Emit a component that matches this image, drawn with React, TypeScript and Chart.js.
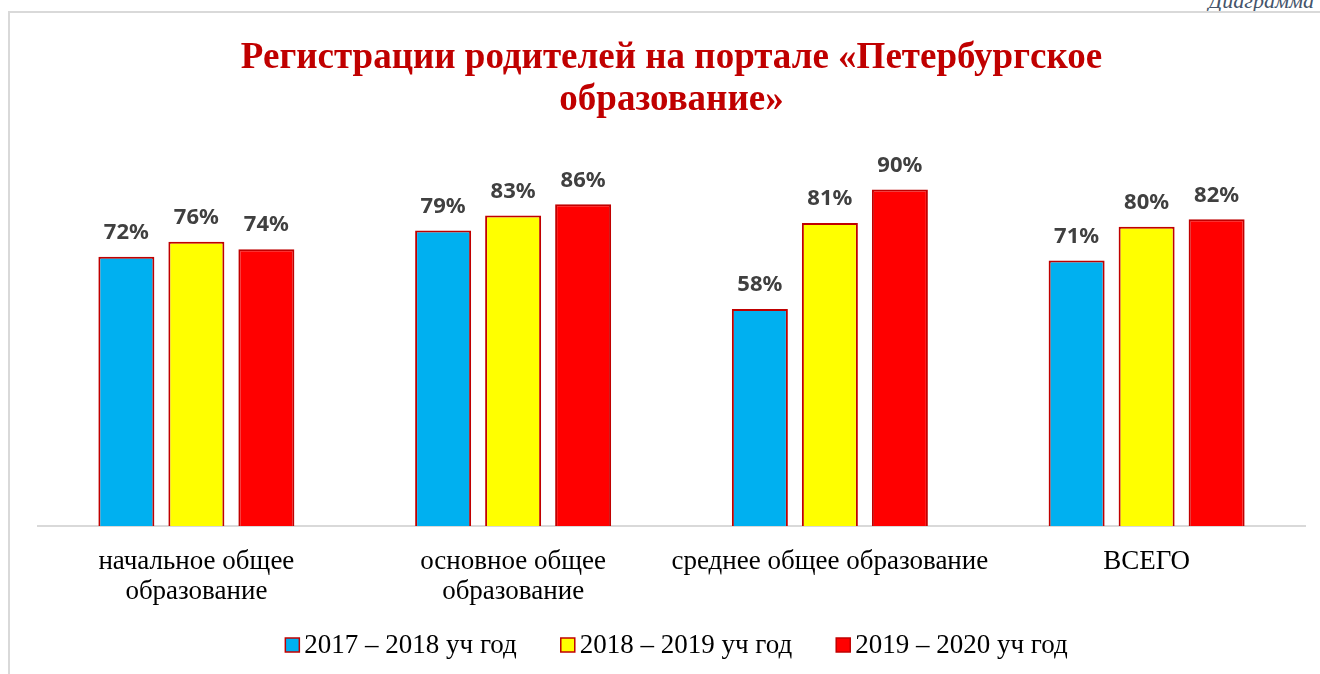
import React, { useEffect, useRef } from "react";
import { Chart, registerables } from "chart.js";

Chart.register(...registerables);

const categories: (string | string[])[] = [
  ["начальное общее", "образование"],
  ["основное общее", "образование"],
  "среднее общее образование",
  "ВСЕГО",
];
const seriesNames = ["2017 – 2018 уч год", "2018 – 2019 уч год", "2019 – 2020 уч год"];
const values2017 = [72, 79, 58, 71];
const values2018 = [76, 83, 81, 80];
const values2019 = [74, 86, 90, 82];
const seriesColors = ["#00B0F0", "#FFFF00", "#FF0000"];
const titleLines = ["Регистрации родителей на портале «Петербургское", "образование»"];

const SERIF = "'Liberation Serif', 'Times New Roman', serif";

const dataLabelPlugin = {
  id: "dataLabels",
  afterDatasetsDraw(chart: any) {
    const ctx = chart.ctx;
    ctx.save();
    ctx.font = "bold 22px 'Noto Sans', sans-serif";
    ctx.fillStyle = "#404040";
    ctx.textAlign = "center";
    ctx.textBaseline = "bottom";
    chart.data.datasets.forEach((ds: any, i: number) => {
      const meta = chart.getDatasetMeta(i);
      meta.data.forEach((el: any, j: number) => {
        ctx.fillText(ds.data[j] + "%", el.x, el.y - 13);
      });
    });
    ctx.restore();
  },
};

const legendPlugin = {
  id: "customLegend",
  afterDraw(chart: any) {
    const ctx = chart.ctx;
    ctx.save();
    ctx.font = `27px ${SERIF}`;
    const box = 14;
    const gapText = 5;
    const gapItem = 44;
    const widths = chart.data.datasets.map((ds: any) => box + gapText + ctx.measureText(ds.label).width);
    const total = widths.reduce((a: number, b: number) => a + b, 0) + gapItem * (widths.length - 1);
    let x = (chart.chartArea.left + chart.chartArea.right) / 2 - total / 2 + 5;
    const cy = 645;
    chart.data.datasets.forEach((ds: any, i: number) => {
      ctx.fillStyle = ds.backgroundColor;
      ctx.fillRect(x, cy - box / 2, box, box);
      ctx.strokeStyle = "#C00000";
      ctx.lineWidth = 1.5;
      ctx.strokeRect(x, cy - box / 2, box, box);
      ctx.fillStyle = "#000";
      ctx.textAlign = "left";
      ctx.textBaseline = "middle";
      ctx.fillText(ds.label, x + box + gapText, cy + 1);
      x += widths[i] + gapItem;
    });
    ctx.restore();
  },
};

export default function App() {
  const ref = useRef<HTMLCanvasElement>(null);
  useEffect(() => {
    if (!ref.current) return;
    const data = [values2017, values2018, values2019];
    const chart = new Chart(ref.current, {
      type: "bar",
      data: {
        labels: categories,
        datasets: data.map((d, i) => ({
          label: seriesNames[i],
          data: d,
          backgroundColor: seriesColors[i],
          borderColor: "#C00000",
          borderWidth: 2,
          categoryPercentage: 0.663,
          barPercentage: 0.8,
        })),
      },
      options: {
        animation: false,
        responsive: false,
        layout: { padding: { left: 38, right: 15, top: 0, bottom: 54 } },
        plugins: {
          title: {
            display: true,
            text: titleLines,
            color: "#C00000",
            font: { family: SERIF, size: 37, weight: "bold", lineHeight: 1.135 },
            padding: { top: 37, bottom: 31 },
          },
          legend: { display: false },
          tooltip: { enabled: false },
        },
        scales: {
          x: {
            grid: { display: false },
            border: { display: true, color: "#D9D9D9", width: 2 },
            ticks: {
              color: "#000",
              padding: 13,
              maxRotation: 0,
              autoSkip: false,
              font: { family: SERIF, size: 27, lineHeight: 1.11 },
            },
            afterFit: (s: any) => {
              s.height = 94;
            },
          },
          y: {
            display: false,
            min: 0,
            max: 100,
          },
        },
      },
      plugins: [dataLabelPlugin, legendPlugin],
    });
    return () => chart.destroy();
  }, []);

  return (
    <div style={{ position: "fixed", left: 0, top: 0, width: 1320, height: 674, background: "#fff", overflow: "hidden" }}>
      <div
        style={{
          position: "absolute",
          right: 6,
          top: -12,
          fontFamily: SERIF,
          fontStyle: "italic",
          fontSize: 22,
          color: "#44546A",
        }}
      >
        Диаграмма
      </div>
      <div
        style={{
          position: "absolute",
          left: 8,
          top: 11,
          width: 1330,
          height: 700,
          borderLeft: "2px solid #D9D9D9",
          borderTop: "2px solid #D9D9D9",
        }}
      />
      <canvas ref={ref} width={1320} height={674} style={{ position: "absolute", left: 0, top: 0 }} />
    </div>
  );
}
